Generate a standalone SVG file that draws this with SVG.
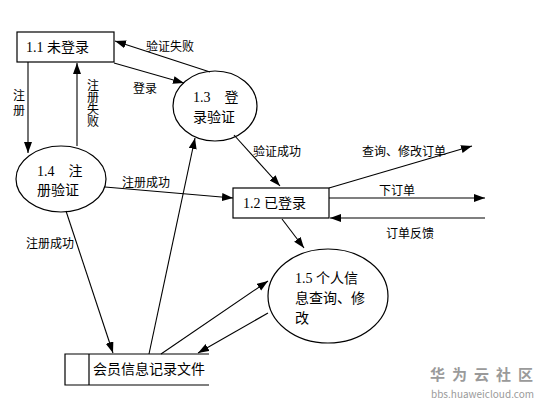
<svg xmlns="http://www.w3.org/2000/svg" width="552" height="406" viewBox="0 0 552 406">
<style>
.n{fill:#fff;stroke:#000;stroke-width:1.2}
.t{font-family:"Liberation Serif","Noto Sans CJK SC",serif;font-size:14px;fill:#000}
.l{font-family:"Noto Sans CJK SC",sans-serif;font-size:12px;fill:#000}
.v{writing-mode:vertical-rl}
.c line{stroke:#000;stroke-width:1.1;marker-end:url(#a)}
.w{font-family:"Noto Sans CJK SC",sans-serif;fill:#9a9a9a}
</style>
<defs>
<marker id="a" markerUnits="userSpaceOnUse" markerWidth="12" markerHeight="10" refX="11" refY="4" orient="auto">
<path d="M0,0 L11,4 L0,8 z" fill="#000"/>
</marker>
</defs>
<rect width="552" height="406" fill="#fff"/>
<g id="n11"><rect class="n" x="17" y="32" width="97" height="30"/><text class="t" x="26" y="52">1.1 未登录</text></g>
<g id="n13"><ellipse class="n" cx="215" cy="106" rx="42" ry="35"/><text class="t" x="193" y="102">1.3　登</text><text class="t" x="193" y="122">录验证</text></g>
<g id="n14"><ellipse class="n" cx="61" cy="179" rx="45" ry="33"/><text class="t" x="37" y="176">1.4　注</text><text class="t" x="37" y="195">册验证</text></g>
<g id="n12"><rect class="n" x="233" y="188" width="96" height="30"/><text class="t" x="243" y="208">1.2 已登录</text></g>
<g id="n15"><ellipse class="n" cx="328" cy="296" rx="60" ry="47"/><text class="t" x="295" y="283">1.5 个人信</text><text class="t" x="295" y="303">息查询、修</text><text class="t" x="295" y="323">改</text></g>
<g id="file"><path d="M209,354 H65 V385 H209 M89,354 V385" fill="none" stroke="#000" stroke-width="1.2"/><text class="t" x="93" y="374">会员信息记录文件</text></g>
<g class="c" id="connectors">
<line x1="28" y1="62" x2="28" y2="153"/>
<line x1="77" y1="146" x2="77" y2="63"/>
<line x1="114" y1="63" x2="184" y2="83"/>
<line x1="210" y1="72" x2="115" y2="41"/>
<line x1="234" y1="135" x2="280" y2="186"/>
<line x1="105" y1="187" x2="233" y2="198"/>
<line x1="66" y1="211" x2="113" y2="353"/>
<line x1="149" y1="354" x2="195" y2="138"/>
<line x1="161" y1="354" x2="268" y2="281"/>
<line x1="268" y1="313" x2="198" y2="353"/>
<line x1="282" y1="219" x2="304" y2="248"/>
<line x1="329" y1="188" x2="472" y2="146"/>
<line x1="329" y1="198" x2="485" y2="198"/>
<line x1="485" y1="218" x2="330" y2="218"/>
</g>
<g id="labels">
<text class="l v" x="19" y="89" letter-spacing="3">注册</text>
<text class="l v" x="93" y="79">注册失败</text>
<text class="l" x="133" y="93">登录</text>
<text class="l" x="146" y="51">验证失败</text>
<text class="l" x="253" y="156">验证成功</text>
<text class="l" x="122" y="187">注册成功</text>
<text class="l" x="26" y="248">注册成功</text>
<text class="l" x="362" y="156">查询、修改订单</text>
<text class="l" x="379" y="195">下订单</text>
<text class="l" x="386" y="238">订单反馈</text>
</g>
<g id="watermark">
<text class="w" x="430" y="380" font-size="15" letter-spacing="7" font-weight="bold">华为云社区</text>
<text class="w" x="431" y="398" font-size="10">bbs.huaweicloud.com</text>
</g>
</svg>
